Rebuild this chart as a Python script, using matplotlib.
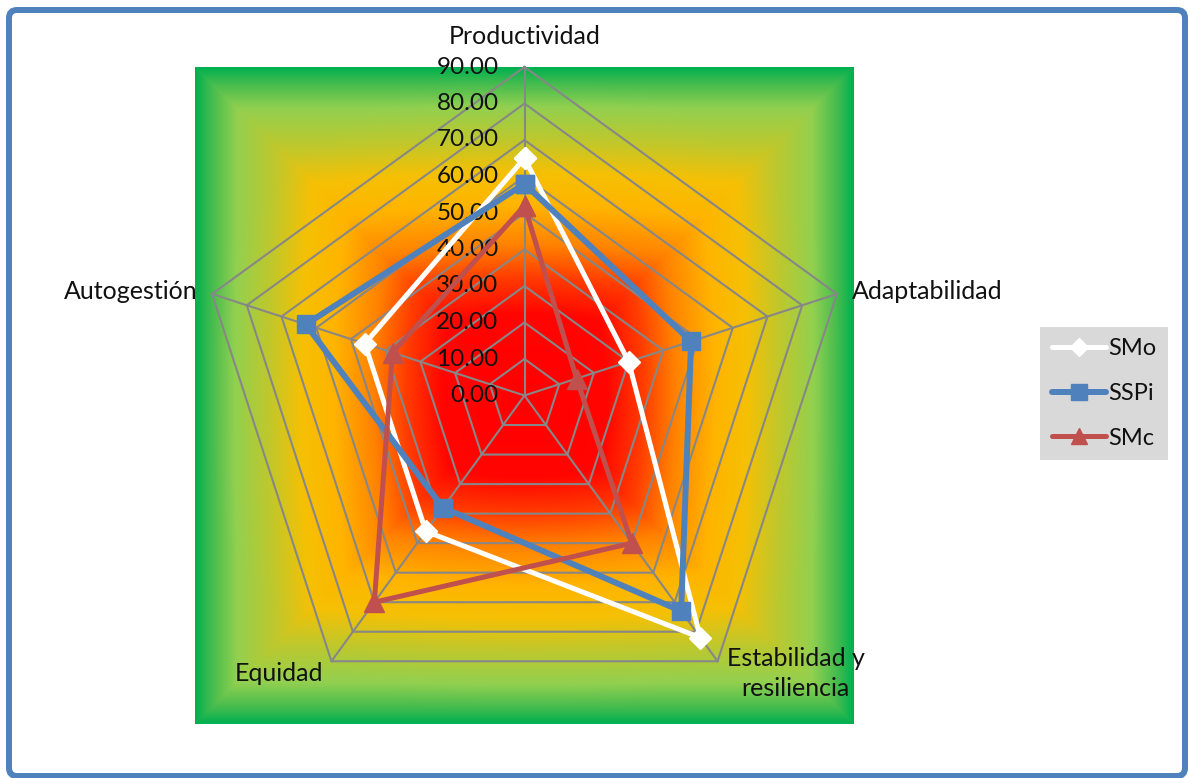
import numpy as np
import matplotlib
matplotlib.use('Agg')
import matplotlib.pyplot as plt
from matplotlib.lines import Line2D
from matplotlib.patches import FancyBboxPatch
from matplotlib.transforms import IdentityTransform

# chart data
categories = ['Productividad', 'Adaptabilidad', 'Estabilidad y\nresiliencia', 'Equidad', 'Autogestión']
smo = [65, 30, 82, 46, 46]
sspi = [58, 48, 73, 38, 63]
smc = [52, 15, 50, 70, 38]
ticks = [0, 10, 20, 30, 40, 50, 60, 70, 80, 90]

plt.rcParams['font.family'] = ['Lato', 'DejaVu Sans']
text_color = '#111111'
grid_color = '#878787'

W, H = 1189, 778
fig = plt.figure(figsize=(W / 100, H / 100), dpi=100)

# square area holding the radar, in pixels
rect = [195 / W, 54 / H, 659 / W, 657 / H]

# background: rectangular gradient from the centre (red) to the edges (green)
n = 600
xs = np.linspace(-1, 1, n)
gx, gy = np.meshgrid(xs, xs)
cheb = np.maximum(np.abs(gx), np.abs(gy))
eucl = np.hypot(gx, gy)
# a bit rounder in the middle, square at the border
t = cheb + (np.minimum(eucl, 1) - cheb) * 0.35 * (1 - cheb)
stops = [0.0, 0.25, 0.36, 0.46, 0.58, 0.68, 0.78, 0.88, 0.95, 1.0]
reds = [255, 255, 255, 255, 255, 245, 190, 146, 70, 0]
greens = [0, 5, 60, 130, 180, 192, 200, 208, 188, 176]
blues = [0, 0, 0, 0, 0, 5, 45, 80, 78, 80]
grad = np.dstack([np.interp(t, stops, reds), np.interp(t, stops, greens),
                  np.interp(t, stops, blues)]) / 255.0
bg = fig.add_axes(rect)
bg.imshow(grad, extent=[-1, 1, -1, 1], origin='lower', interpolation='bilinear', aspect='auto')
bg.axis('off')

ax = fig.add_axes(rect, projection='polar')
ax.set_theta_offset(np.pi / 2)
ax.set_theta_direction(-1)
ax.set_ylim(0, 90)
ax.patch.set_visible(False)
ax.spines['polar'].set_visible(False)
ax.grid(False)
ax.set_xticks([])
ax.set_yticks([])

angles = np.linspace(0, 2 * np.pi, len(categories), endpoint=False)
closed = np.append(angles, angles[0])

# polygon grid and spokes
for v in ticks[1:]:
    ax.plot(closed, [v] * len(closed), color=grid_color, lw=1.5, zorder=1, clip_on=False)
for a in angles:
    ax.plot([a, a], [0, ticks[-1]], color=grid_color, lw=1.5, zorder=1, clip_on=False)

# value labels left of the vertical spoke
for v in ticks:
    ax.annotate(f'{v:.2f}', xy=(0, v), xytext=(-26, 0), textcoords='offset pixels',
                ha='right', va='center', fontsize=17.5, color=text_color,
                annotation_clip=False, zorder=2)

# series
series = [
    ('SMo', smo, 'white', 'D', 11, 3.6),
    ('SSPi', sspi, '#4F81BD', 's', 13, 4.3),
    ('SMc', smc, '#C0504D', '^', 14, 3.6),
]
handles = []
for i, (name, vals, col, mk, ms, lw) in enumerate(series):
    ax.plot(closed, np.append(vals, vals[0]), color=col, lw=lw, marker=mk, ms=ms,
            mfc=col, mec=col, zorder=3 + i, clip_on=False, solid_joinstyle='round')
    handles.append(Line2D([], [], color=col, lw=lw, marker=mk, ms=ms - 2, mfc=col, mec=col,
                          solid_capstyle='round'))

# category labels around the outer ring
label_pos = [
    ((0, 31), 'center', 'center'),
    ((15, 2), 'left', 'center'),
    ((78, -12), 'center', 'center'),
    ((-52, -12), 'center', 'center'),
    ((-15, 2), 'right', 'center'),
]
for a, name, (off, ha, va) in zip(angles, categories, label_pos):
    ax.annotate(name, xy=(a, 90), xytext=off, textcoords='offset pixels',
                ha=ha, va=va, fontsize=18, color=text_color, multialignment='center',
                linespacing=1.35, annotation_clip=False, zorder=6)

leg = fig.legend(handles, [s[0] for s in series], loc='center left',
                 bbox_to_anchor=(1040 / W, 1 - 393.5 / H), borderaxespad=0,
                 fontsize=17, frameon=True, fancybox=False, handlelength=2.3,
                 handletextpad=0.1, borderpad=0.5, labelspacing=1.0)
leg.get_frame().set_facecolor('#D9D9D9')
leg.get_frame().set_edgecolor('none')
leg.get_frame().set_alpha(1)
for txt in leg.get_texts():
    txt.set_color(text_color)

# blue rounded frame round the whole chart
frame = FancyBboxPatch((9, 2), 1176, 766, boxstyle='round,pad=0,rounding_size=8',
                       transform=IdentityTransform(), fill=False, ec='#4F81BD', lw=4.3)
fig.add_artist(frame)

fig.savefig('out.png', dpi=100)
